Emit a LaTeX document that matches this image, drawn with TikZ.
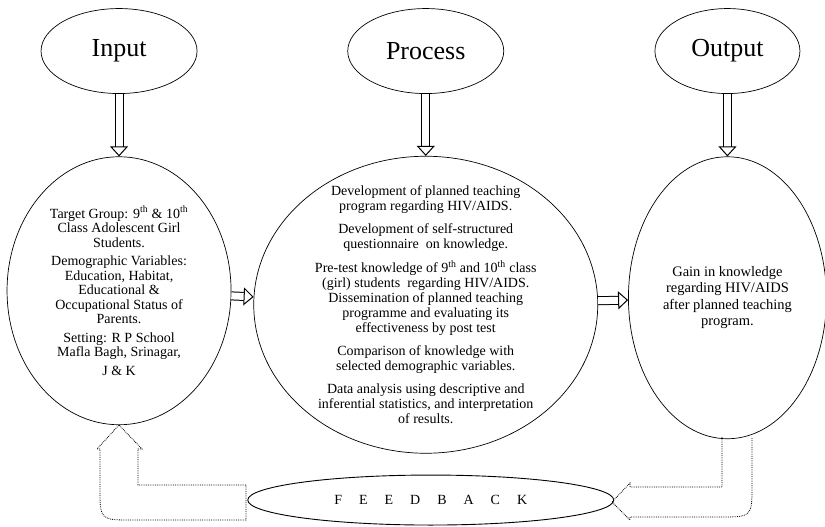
\documentclass[tikz,border=0pt]{standalone}
\usepackage{fontspec}
\setmainfont{Liberation Serif}
\usetikzlibrary{shapes.geometric,arrows.meta,positioning}
\newcommand{\fbgap}{\hspace{17pt}}

\begin{document}
\begin{tikzpicture}[x=1pt,y=-1pt,
    title/.style={draw,line width=0.7pt,shape=ellipse,anchor=center,inner sep=0pt,minimum width=156pt,minimum height=85pt,font=\fontsize{26}{28}\selectfont},
    body/.style={draw,line width=0.7pt,shape=ellipse,anchor=center,inner sep=0pt},
    bodytext/.style={align=center,font=\fontsize{14}{15}\selectfont},
    hollow/.style={double,line width=1pt,double distance=7pt,-{Triangle[open,width=18pt,length=10pt,line width=1pt]}},
    fbarrow/.style={densely dotted,line width=0.8pt}]
  \useasboundingbox (0,0) rectangle (825,527);
  \matrix [anchor=north west,inner sep=0pt,column sep=22pt,row sep=62pt] at (6.5,8) {
    \node[title] (intitle) {Input};
    & \node[title] (proctitle) {Process};
    &[8pt] \node[title,minimum width=145pt] (outtitle) {Output}; \\
    \node[body,minimum width=224pt,minimum height=268pt,yshift=14pt] (inbody) {};
    & \node[body,minimum width=344pt,minimum height=297pt] (procbody) {};
    &[8pt] \node[body,minimum width=198pt,minimum height=282pt,yshift=7pt] (outbody) {}; \\
  };
  \node[bodytext,font=\fontsize{14}{14.5}\selectfont] (intext) at (inbody) {Target Group: 9\textsuperscript{th} \& 10\textsuperscript{th}\\
    Class Adolescent Girl\\ Students.\\[4pt]
    Demographic Variables:\\ Education, Habitat,\\ Educational \&\\ Occupational Status of\\ Parents.\\[4pt]
    Setting: R P School\\ Mafla Bagh, Srinagar,\\[4pt] J \& K};
  \node[bodytext] (proctext) at (procbody) {Development of planned teaching\\
    program regarding HIV/AIDS.\\[8pt]
    Development of self-structured\\ questionnaire\ \ on knowledge.\\[8pt]
    Pre-test knowledge of 9\textsuperscript{th} and 10\textsuperscript{th} class\\
    (girl) students\ \ regarding HIV/AIDS.\\
    Dissemination of planned teaching\\ programme and evaluating its\\ effectiveness by post test\\[8pt]
    Comparison of knowledge with\\ selected demographic variables.\\[8pt]
    Data analysis using descriptive and\\ inferential statistics, and interpretation\\ of results.};
  \node[bodytext,font=\fontsize{14.5}{16.5}\selectfont] (outtext) at (outbody) {Gain in knowledge\\
    regarding HIV/AIDS\\ after planned teaching\\ program.};
  \node[body,line width=0.9pt,minimum width=366pt,minimum height=50pt,below=21pt of procbody,xshift=5pt,font=\fontsize{14}{15}\selectfont] (feedback)
    {F\fbgap E\fbgap E\fbgap D\fbgap B\fbgap A\fbgap C\fbgap K};
  \path (intitle)   edge[hollow] (inbody);
  \path (proctitle) edge[hollow] (procbody);
  \path (outtitle)  edge[hollow] (outbody);
  \path (inbody)    edge[hollow] (procbody);
  \path (procbody)  edge[hollow] (outbody);
  \draw[fbarrow] (246,485) -- (138,485) -- (138,449) -- (142,449) -- (119,425) -- (97,449) -- (100,449)
    -- (100,488) .. controls (100,520) and (100,520) .. (132,520) -- (246,520) -- cycle;
  \draw[fbarrow] (722,437) -- (722,487) -- (630,487) -- (630,483) -- (612,502) -- (630,520) -- (630,517)
    -- (720,517) .. controls (752,517) and (752,517) .. (752,485) -- (752,437);
\end{tikzpicture}
\end{document}
